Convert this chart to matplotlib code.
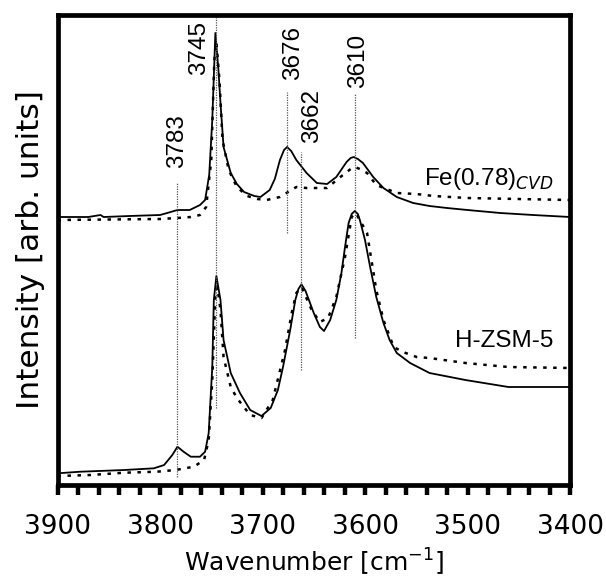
import matplotlib
matplotlib.use("Agg")
import matplotlib.pyplot as plt
from matplotlib.ticker import MultipleLocator

# ---------------- data (intensity in arb. units, spectra vertically offset) ----------------
fe_solid_wn = [3900, 3870, 3858, 3855, 3830, 3800, 3793, 3783, 3771, 3761, 3756, 3752, 3749,
               3746, 3743, 3741, 3738, 3731, 3725, 3718, 3708, 3702, 3693, 3688, 3683, 3679,
               3676, 3672, 3667, 3657, 3647, 3637, 3628, 3618, 3614, 3611, 3607, 3602, 3592,
               3582, 3569, 3553, 3537, 3520, 3500, 3468, 3436, 3400]
fe_solid_int = [268, 268, 270, 268, 269, 270, 272, 275, 275, 280, 285, 310, 365,
                452, 415, 382, 338, 312, 301, 293, 289, 288, 295, 306, 325, 335,
                338, 334, 325, 312, 302, 301, 308, 323, 327, 328, 326, 322, 308,
                297, 288, 282, 279, 277, 275, 272, 270, 268]

fe_dot_wn = [3900, 3800, 3783, 3770, 3761, 3755, 3750, 3747, 3745, 3742, 3739, 3733, 3725,
             3715, 3705, 3696, 3683, 3675, 3667, 3657, 3637, 3624, 3614, 3610, 3605, 3598,
             3589, 3569, 3550, 3533, 3500, 3400]
fe_dot_int = [265, 266, 267, 268, 270, 278, 325, 425, 443, 405, 345, 315, 298,
              289, 286, 285, 288, 293, 298, 297, 297, 308, 316, 318, 316, 312,
              300, 292, 291, 289, 287, 285]

h_solid_wn = [3900, 3878, 3835, 3806, 3796, 3788, 3783, 3777, 3770, 3761, 3756, 3752.5, 3749,
              3747.5, 3745, 3741, 3738, 3731, 3722, 3712, 3701, 3692, 3685, 3680, 3673, 3668,
              3665, 3662, 3658, 3650, 3644, 3640, 3634, 3628, 3623, 3619.5, 3616, 3613, 3610,
              3607, 3605, 3600, 3595, 3589, 3582, 3576, 3569, 3556, 3537, 3502, 3460, 3400]
h_solid_int = [11.7, 13.3, 15, 16.7, 20, 30, 38.3, 33.3, 28.3, 28.3, 33.3, 52, 118,
               185, 209, 185, 145, 112, 92, 75, 69, 77, 95, 118, 155, 185,
               196, 200.7, 194, 172, 158, 154, 165, 185, 212, 238, 262, 271, 274,
               271, 265, 245, 218, 188, 162, 145, 132, 122, 112, 105, 98, 98]

h_dot_wn = [3900, 3868, 3835, 3803, 3785, 3767, 3757, 3752.5, 3749, 3746, 3744, 3741, 3738,
            3731, 3725, 3712, 3701, 3690, 3678, 3671.5, 3667, 3662, 3652, 3644, 3636, 3628,
            3619.5, 3613, 3609, 3598, 3589, 3582, 3572, 3563, 3549.5, 3537, 3502, 3460, 3400]
h_dot_int = [9, 10, 12.3, 13.3, 15, 18.3, 25, 45, 105, 190, 198, 175, 128,
             98, 87, 70, 67, 85, 135, 172, 192, 198, 175, 163, 167, 188,
             228, 268, 272, 252, 195, 165, 138, 133, 128, 127, 122, 118, 117]

peak_labels = ["3783", "3745", "3676", "3662", "3610"]
peak_wn = [3783, 3745, 3676, 3662, 3610]
# vertical marker extent (top, bottom) and label anchor (x, bottom of text)
peak_line_top = [302, 470, 393, 333, 392]
peak_line_bottom = [8, 77, 252, 115, 147]
peak_label_x = [3783, 3762, 3670, 3652, 3607]
peak_label_y = [317, 410, 405, 342, 397]

x_ticks = [3900, 3800, 3700, 3600, 3500, 3400]

# ---------------- figure ----------------
fig = plt.figure(figsize=(6.06, 5.81), dpi=100)
ax = fig.add_axes([0.0949, 0.1652, 0.8457, 0.809])

dot_style = (0, (1.4, 2.6))
ax.plot(fe_solid_wn, fe_solid_int, color="black", lw=1.3, solid_joinstyle="round")
ax.plot(fe_dot_wn, fe_dot_int, color="black", lw=1.8, linestyle=dot_style)
ax.plot(h_solid_wn, h_solid_int, color="black", lw=1.3, solid_joinstyle="round")
ax.plot(h_dot_wn, h_dot_int, color="black", lw=1.8, linestyle=dot_style)

for wn, top, bot in zip(peak_wn, peak_line_top, peak_line_bottom):
    ax.plot([wn, wn], [bot, top], color="#555555", lw=0.9, linestyle=(0, (1, 1)))

for lab, lx, ly in zip(peak_labels, peak_label_x, peak_label_y):
    ax.text(lx, ly, lab, rotation=90, ha="center", va="bottom",
            fontsize=17.5, family="Liberation Sans")

ax.text(3416, 300, r"Fe(0.78)$_{\mathit{CVD}}$", ha="right", va="baseline",
        fontsize=17.5, family="Liberation Sans")
ax.text(3416, 138, "H-ZSM-5", ha="right", va="baseline",
        fontsize=17.5, family="Liberation Sans")

ax.set_xlim(3900, 3400)
ax.set_ylim(0, 470)
ax.set_xticks(x_ticks)
ax.set_xticklabels([str(t) for t in x_ticks], fontsize=19, family="DejaVu Sans")
ax.xaxis.set_minor_locator(MultipleLocator(20))
ax.tick_params(axis="x", which="both", direction="out", length=7, width=3.2, pad=14)
ax.set_yticks([])
for s in ax.spines.values():
    s.set_linewidth(3.4)

ax.set_xlabel(r"Wavenumber [cm$^{-1}$]", fontsize=18, family="DejaVu Sans", labelpad=5)
ax.set_ylabel("Intensity [arb. units]", fontsize=22.5, family="DejaVu Sans", labelpad=9)

fig.savefig("out.png", dpi=100)
